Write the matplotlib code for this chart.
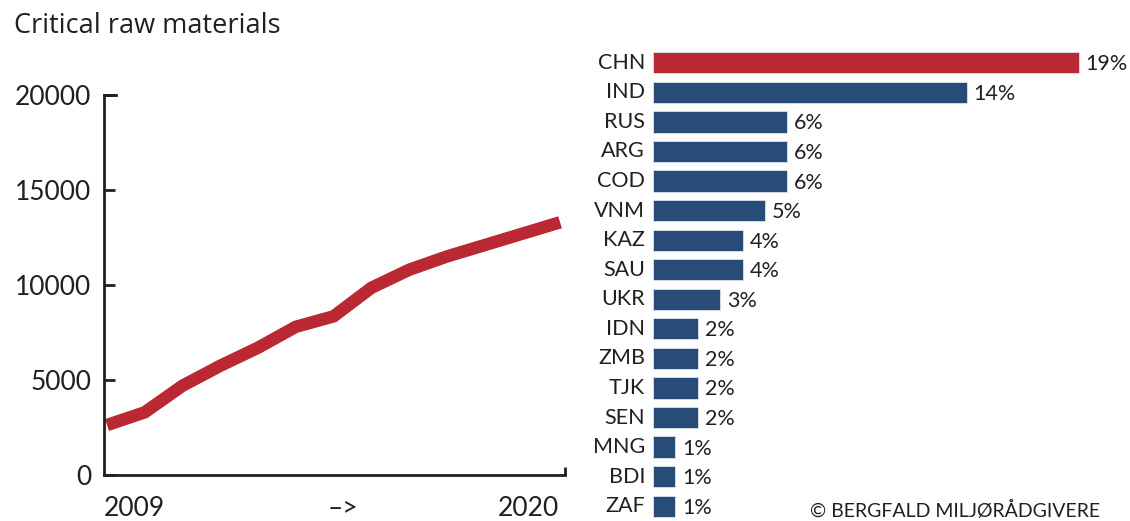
import matplotlib.pyplot as plt

# line chart data (index 0 = 2009 ... last = 2020)
years = list(range(13))
volume = [2630, 3300, 4700, 5750, 6700, 7800, 8350, 9850, 10800, 11500, 12100, 12700, 13300]

# bar chart data
countries = ['CHN', 'IND', 'RUS', 'ARG', 'COD', 'VNM', 'KAZ', 'SAU',
             'UKR', 'IDN', 'ZMB', 'TJK', 'SEN', 'MNG', 'BDI', 'ZAF']
shares = [19, 14, 6, 6, 6, 5, 4, 4, 3, 2, 2, 2, 2, 1, 1, 1]

red = '#b92833'
blue = '#274c78'
ink = '#231f20'

plt.rcParams['font.family'] = ['Lato', 'DejaVu Sans']

W, H = 1130, 521
fig = plt.figure(figsize=(W/100, H/100), dpi=100)

# line chart
ax1 = fig.add_axes([104/W, 1-475/H, 461/W, 380/H])
ax1.plot(years, volume, color=red, lw=9, solid_capstyle='butt', solid_joinstyle='miter')
ax1.set_ylim(0, 20000)
ax1.set_xlim(-0.08, 12.13)
for s in ['top', 'right']:
    ax1.spines[s].set_visible(False)
for s in ['left', 'bottom']:
    ax1.spines[s].set_linewidth(2)
    ax1.spines[s].set_color(ink)
ax1.set_yticks([0, 5000, 10000, 15000, 20000])
ax1.tick_params(axis='y', direction='in', length=8, width=2, color=ink,
                labelsize=19, labelcolor=ink, pad=9)
ax1.set_xticks([12.13])
ax1.set_xticklabels([''])
ax1.tick_params(axis='x', direction='in', length=6, width=2, color=ink)
ax1.plot([-0.08, 0.25], [20000, 20000], color=ink, lw=2, clip_on=False)

# x labels, kept just inside the bottom edge
fig.text(134.5/W, 1-508/H, '2009', fontsize=19, color=ink, ha='center', va='center')
fig.text(343/W, 1-508/H, '–>', fontsize=19, color=ink, ha='center', va='center')
fig.text(528.5/W, 1-508/H, '2020', fontsize=19, color=ink, ha='center', va='center')

fig.text(14/W, 1-26/H, 'Critical raw materials', fontsize=19.5, color=ink,
         ha='left', va='center', family=['Open Sans', 'DejaVu Sans'])

# bar chart
ax2 = fig.add_axes([653/W, 0, (W-653)/W, 473/H])
ypos = list(range(len(countries)))
colors = [red] + [blue]*(len(countries)-1)
ax2.barh(ypos, shares, height=0.72, color=colors, edgecolor='#dde3ec', linewidth=0.6)
ax2.set_xlim(0, (W-653)/22.4)
ax2.set_ylim(15.5, -0.5)
ax2.axis('off')
for i, (c, v) in enumerate(zip(countries, shares)):
    ax2.text(-0.35, i, c, ha='right', va='center', fontsize=15.5, color=ink)
    ax2.text(v + 0.3, i + 0.05, f'{v}%', ha='left', va='center', fontsize=15.5, color=ink)

fig.text(1100/W, 1-510/H, '© BERGFALD MILJØRÅDGIVERE', fontsize=14, color=ink,
         ha='right', va='center')

fig.savefig('out.png', dpi=100)
